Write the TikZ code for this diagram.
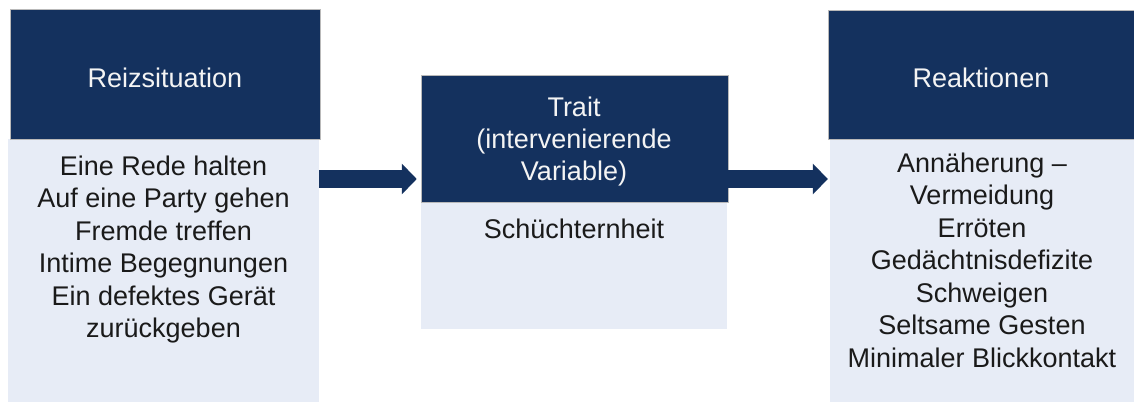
\documentclass[tikz,border=0pt]{standalone}
\usepackage{fontspec}
\setmainfont{Liberation Sans}
\usetikzlibrary{arrows.meta}
\definecolor{navy}{HTML}{14315E}
\definecolor{lightbg}{HTML}{E7ECF6}
\definecolor{bodytext}{HTML}{1A1A1A}
\definecolor{headtext}{HTML}{F4F4F4}
\tikzset{
  hdr/.style={fill=navy, draw=gray!55, line width=0.5pt, inner sep=0pt},
  bodybox/.style={fill=lightbg, draw=none, inner sep=0pt},
  htxt/.style={text=headtext, align=center, anchor=north, inner sep=0pt,
    font=\fontsize{27pt}{32pt}\selectfont},
  btxt/.style={text=bodytext, align=center, anchor=north, inner sep=0pt,
    font=\fontsize{27pt}{32.5pt}\selectfont},
  bigarrow/.style={draw=navy, line width=18pt,
    -{Triangle[width=30pt,length=15pt]}}
}
\newcommand{\topstrut}{\rule{0pt}{20pt}}
\begin{document}
\begin{tikzpicture}[x=1pt,y=-1pt]
\useasboundingbox (0,0) rectangle (1134,403);
% left column
\node[bodybox, minimum width=311pt, minimum height=263pt] (lbody) at (163.5,270.5) {};
\node[hdr, minimum width=310pt, minimum height=130pt] (lhead) at (165,74) {};
\node[htxt] (ltitle) at (165,67) {\topstrut Reizsituation};
\node[btxt] (ltext) at (163.5,155) {\topstrut Eine Rede halten\\Auf eine Party gehen\\Fremde treffen\\Intime Begegnungen\\Ein defektes Gerät\\zurückgeben};
% middle column
\node[bodybox, minimum width=306pt, minimum height=127pt] (mbody) at (574,265.5) {};
\node[hdr, minimum width=307pt, minimum height=127pt] (mhead) at (574.5,138.5) {};
\node[htxt] (mtitle) at (574,96.5) {\topstrut Trait\\(intervenierende\\Variable)};
\node[btxt] (mtext) at (574,218) {\topstrut Schüchternheit};
% right column
\node[bodybox, minimum width=304pt, minimum height=263pt] (rbody) at (982,270.5) {};
\node[hdr, minimum width=306pt, minimum height=129pt] (rhead) at (981,74.5) {};
\node[htxt] (rtitle) at (981,67) {\topstrut Reaktionen};
\node[btxt] (rtext) at (982,152) {\topstrut Annäherung –\\Vermeidung\\Erröten\\Gedächtnisdefizite\\Schweigen\\Seltsame Gesten\\Minimaler Blickkontakt};
% arrows
\draw[bigarrow, shorten >=4pt] (lbody.east |- 0,179) -- (mhead.west |- 0,179);
\draw[bigarrow, shorten >=2pt] (mhead.east |- 0,179) -- (rbody.west |- 0,179);
\end{tikzpicture}
\end{document}
